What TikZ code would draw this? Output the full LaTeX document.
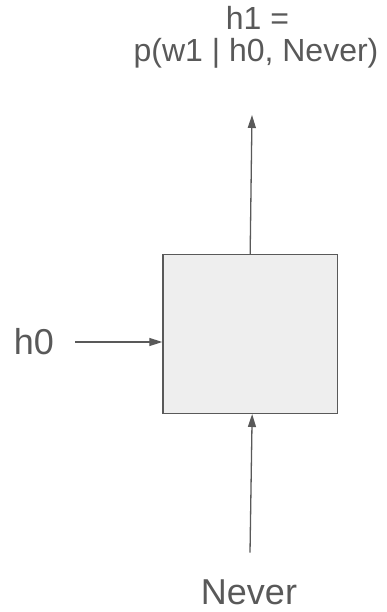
\documentclass[tikz,border=0pt]{standalone}
\usepackage{fontspec}
\setmainfont{Liberation Sans}
\usetikzlibrary{arrows.meta}
\definecolor{ink}{HTML}{595959}
\definecolor{boxfill}{HTML}{EEEEEE}
\begin{document}
\begin{tikzpicture}[x=1pt,y=-1pt,
  conn/.style={draw=ink,line width=1.3pt,-{Triangle[length=13pt,width=8pt]}},
  lbl/.style={text=ink,inner sep=0pt,anchor=base},
  bigtext/.style={font=\fontsize{36}{36}\selectfont},
  toptext/.style={font=\fontsize{32}{32}\selectfont},
  cellbox/.style={draw=ink,fill=boxfill,line width=1.3pt,minimum width=174.4pt,minimum height=158.7pt,inner sep=0pt}]
\useasboundingbox (0,0) rectangle (386,612);
\node[cellbox] (cell) at (250.15,334) {};
\node[lbl,bigtext] (h0) at (34,354.3) {h0};
\node[lbl,bigtext] (never) at (249,604.5) {Never};
\node[lbl,toptext] (h1a) at (257.5,30) {h1 =};
\node[lbl,toptext] (h1b) at (256,61.7) {p(w1 | h0, Never)};
\coordinate (topend) at (252,115);
\coordinate (botstart) at (250,552.7);
\coordinate (h0start) at (75,342);
\draw[conn] (cell.north) -- (topend);
\draw[conn] (botstart) -- ([xshift=2pt]cell.south);
\draw[conn] (h0start) -- (h0start -| cell.west);
\end{tikzpicture}
\end{document}
